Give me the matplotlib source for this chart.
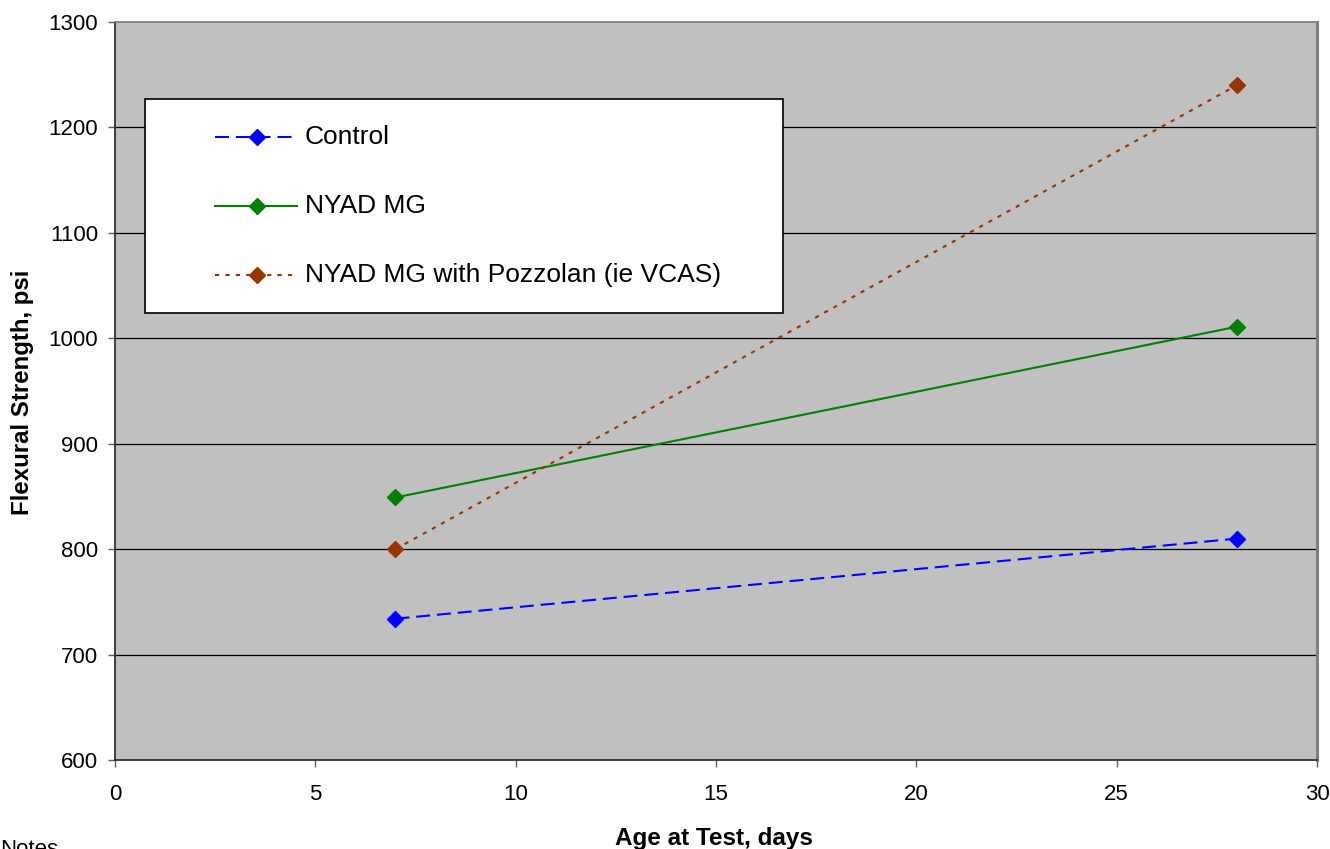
import matplotlib
matplotlib.use("Agg")
import matplotlib.pyplot as plt
from matplotlib.lines import Line2D
from matplotlib.patches import Rectangle

plt.rcParams['font.family'] = ['Liberation Sans', 'DejaVu Sans']

# ---- data ----
age_days = [7, 28]
control = [734, 810]
nyad_mg = [849, 1011]
nyad_pozz = [800, 1240]
series_names = ["Control", "NYAD MG", "NYAD MG with Pozzolan (ie VCAS)"]
x_ticks = [0, 5, 10, 15, 20, 25, 30]
y_ticks = [600, 700, 800, 900, 1000, 1100, 1200, 1300]

W, H = 1330, 849
fig = plt.figure(figsize=(W / 100, H / 100), dpi=100)
fig.patch.set_facecolor('white')
L, R, T, B = 115, 1317, 22, 760
ax = fig.add_axes([L / W, 1 - B / H, (R - L) / W, (B - T) / H])
ax.set_facecolor('#C0C0C0')

ax.set_xlim(0, 30)
ax.set_ylim(600, 1300)
ax.set_xticks(x_ticks)
ax.set_yticks(y_ticks)
for yv in y_ticks[1:-1]:
    ax.axhline(yv, color='black', lw=0.9, zorder=1)

ax.spines['left'].set_color('#303030')
ax.spines['bottom'].set_color('#303030')
ax.spines['top'].set_color('#808080')
ax.spines['right'].set_color('#808080')
for s in ax.spines.values():
    s.set_linewidth(1.3)
ax.spines['right'].set_linewidth(2.2)
ax.tick_params(direction='out', length=5, width=1, color='#606060',
               labelsize=16)
ax.tick_params(axis='y', pad=7)
ax.tick_params(axis='x', pad=12)

styles = [
    dict(color='#0000FF', ls=(0, (6.7, 3.3)), lw=1.5),
    dict(color='#008000', ls='-', lw=1.5),
    dict(color='#993300', ls=(0, (2.0, 3.0)), lw=1.5),
]
MS = 8.5
for vals, st in zip([control, nyad_mg, nyad_pozz], styles):
    ax.plot(age_days, vals, marker='D', markersize=MS, mec=st['color'],
            mfc=st['color'], zorder=3, **st)

# legend box (manual)
def ax_xy(px, py):
    return (px - L) / (R - L), (B - py) / (B - T)

x0, y0 = ax_xy(145, 313)
x1, y1 = ax_xy(783, 99)
ax.add_patch(Rectangle((x0, y0), x1 - x0, y1 - y0, transform=ax.transAxes,
                       facecolor='white', edgecolor='black', lw=1.2, zorder=5))
rows = [137, 206, 275]
for name, st, py in zip(series_names, styles, rows):
    hx0, hy = ax_xy(215, py)
    hx1, _ = ax_xy(297, py)
    hxm, _ = ax_xy(257, py)
    ax.add_line(Line2D([hx0, hx1], [hy, hy], transform=ax.transAxes, zorder=6, **st))
    ax.add_line(Line2D([hxm], [hy], transform=ax.transAxes, marker='D', markersize=MS,
                       color=st['color'], ls='none', zorder=7))
    tx, _ = ax_xy(305, py)
    ax.text(tx, hy, name, transform=ax.transAxes, fontsize=19, va='center',
            ha='left', zorder=7)

fig.text(714 / W, 1 - 838 / H, "Age at Test, days", fontsize=17.5, fontweight='bold',
         ha='center', va='center')
fig.text(23 / W, 1 - 392 / H, "Flexural Strength, psi", fontsize=17.3,
         fontweight='bold', rotation=90, ha='center', va='center')
fig.text(0 / W, 1 - 839 / H, "Notes", fontsize=16, ha='left', va='top')

fig.savefig("out.png", dpi=100)
